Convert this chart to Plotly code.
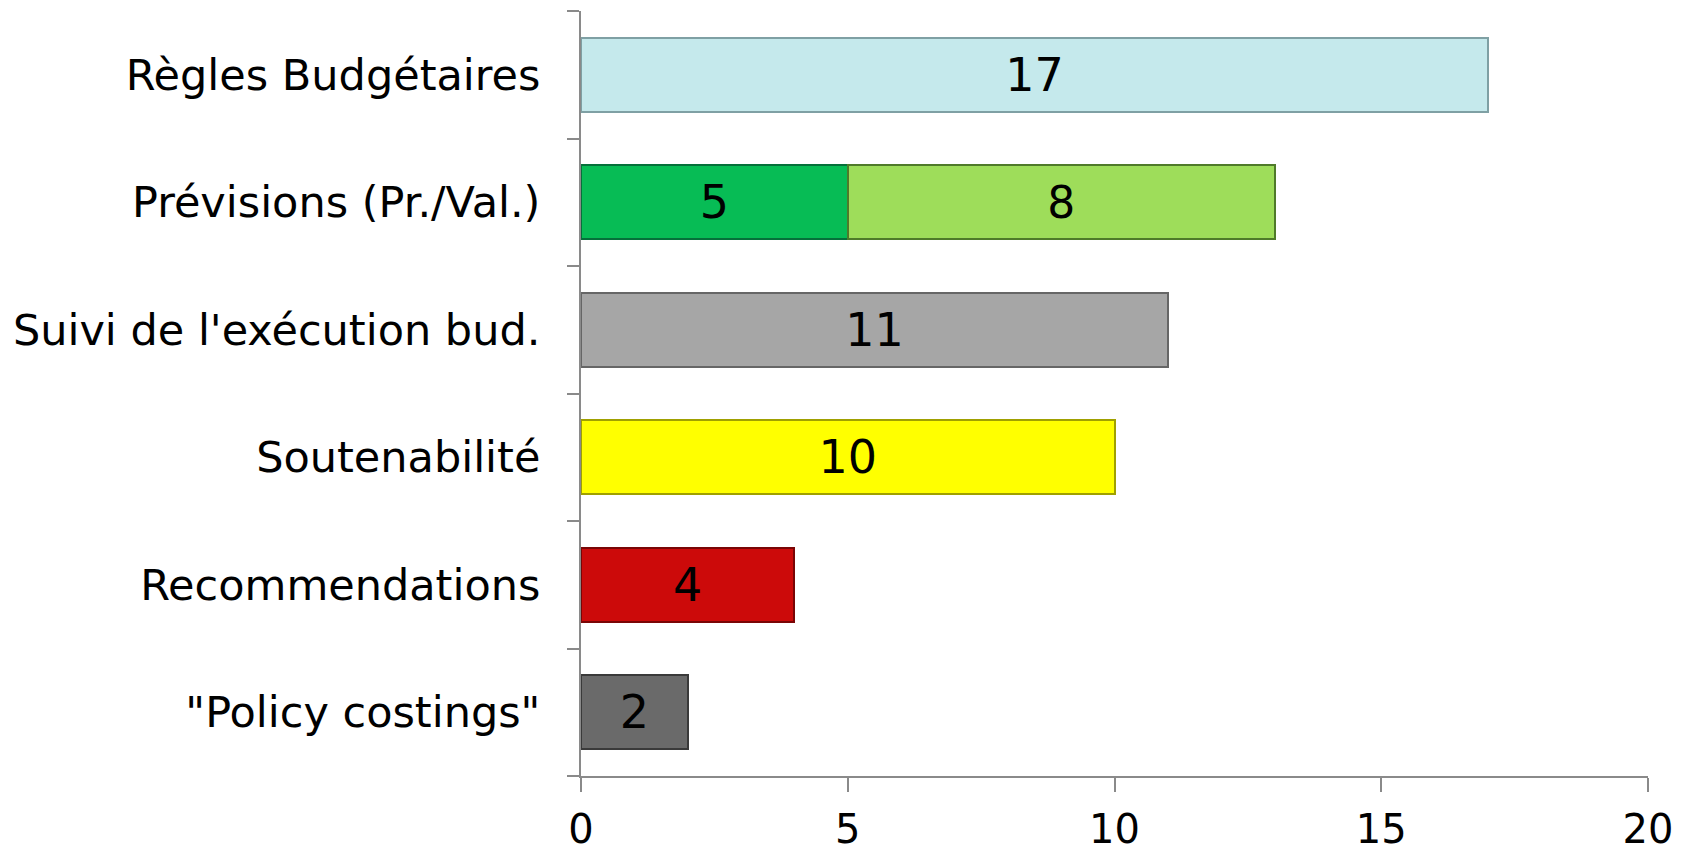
import plotly.graph_objects as go

categories = ['"Policy costings"', "Recommendations", "Soutenabilité",
              "Suivi de l'exécution bud.", "Prévisions (Pr./Val.)", "Règles Budgétaires"]
values_main = [2, 4, 10, 11, 5, 17]
colors_main = ["#6A6A6A", "#CC0A0A", "#FFFF00", "#A6A6A6", "#07BC55", "#C5E9EC"]
lines_main = ["#3A3A3A", "#7A0505", "#A0A000", "#666666", "#05703A", "#7FA0A4"]
values_second = [None, None, None, None, 8, None]
labels_second = ["", "", "", "", "8", ""]
colors_second = "#9EDD5A"
x_ticks = [0, 5, 10, 15, 20]

FONT = "DejaVu Sans"

fig = go.Figure()
fig.add_trace(go.Bar(
    y=categories, x=values_main, orientation="h",
    marker=dict(color=colors_main, line=dict(color=lines_main, width=2)),
    text=[str(v) for v in values_main], textposition="inside",
    insidetextanchor="middle", textangle=0,
    textfont=dict(family=FONT, size=46, color="black"),
    showlegend=False, hoverinfo="skip",
))
fig.add_trace(go.Bar(
    y=categories, x=values_second, orientation="h",
    marker=dict(color=colors_second, line=dict(color="#4F7A2A", width=2)),
    text=labels_second, textposition="inside",
    insidetextanchor="middle", textangle=0,
    textfont=dict(family=FONT, size=44, color="black"),
    showlegend=False, hoverinfo="skip",
))

fig.update_layout(
    barmode="stack",
    bargap=0.42,
    width=1692, height=852,
    margin=dict(l=581, r=44, t=11, b=76, pad=0),
    paper_bgcolor="white", plot_bgcolor="white",
    font=dict(family=FONT, size=40, color="black"),
)
fig.update_xaxes(
    range=[0, 20], tickvals=x_ticks, ticktext=[str(t) for t in x_ticks],
    showgrid=False, zeroline=False, automargin=False,
    showline=True, linecolor="#8A8A8A", linewidth=2,
    ticks="outside", ticklen=14, tickwidth=2, tickcolor="#8A8A8A",
    ticklabelstandoff=3,
    tickfont=dict(family=FONT, size=40, color="black"),
)
fig.update_yaxes(
    categoryorder="array", categoryarray=categories,
    showgrid=False, zeroline=False, automargin=False,
    showline=True, linecolor="#8A8A8A", linewidth=2,
    ticks="outside", tickson="boundaries", ticklen=12, tickwidth=2, tickcolor="#8A8A8A",
    ticklabelstandoff=30,
    tickfont=dict(family=FONT, size=43, color="black"),
)

fig.write_html("out.html")
